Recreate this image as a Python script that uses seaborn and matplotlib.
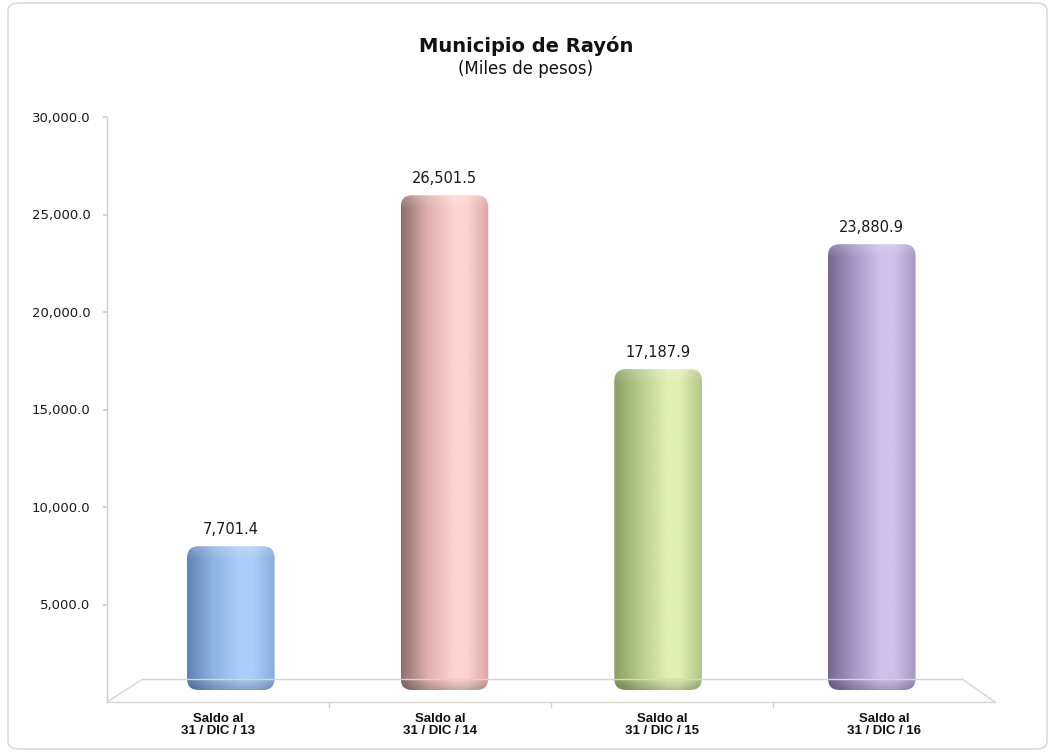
import numpy as np
import pandas as pd
import matplotlib
matplotlib.use("Agg")
import matplotlib.pyplot as plt
import seaborn as sns
from matplotlib.patches import FancyBboxPatch
from matplotlib.lines import Line2D
from matplotlib.colors import LinearSegmentedColormap

# ---- data ----
categories = ["Saldo al\n31 / DIC / 13", "Saldo al\n31 / DIC / 14",
              "Saldo al\n31 / DIC / 15", "Saldo al\n31 / DIC / 16"]
values = [7701.4, 26501.5, 17187.9, 23880.9]
ytick_values = [5000, 10000, 15000, 20000, 25000, 30000]
title = "Municipio de Rayón"
subtitle = "(Miles de pesos)"

base_colors = ["#8DB4E2", "#E0AEAE", "#B8CC8C", "#A897C8"]
# cylinder shading: left edge, mid, highlight, right edge
shade_left = ["#5D82B5", "#8C6E6E", "#8A9E60", "#75678F"]
shade_high = ["#A9CEF8", "#FFD3D3", "#E0F0B2", "#D0C0EA"]
shade_right = ["#86ADDC", "#D9A6A6", "#B2C686", "#A596C4"]

sns.set_theme(style="white")
plt.rcParams["font.family"] = ["DejaVu Sans"]

W, H = 1052, 755
fig = plt.figure(figsize=(W / 100, H / 100), dpi=100)
fig.patch.set_facecolor("white")

def fx(px): return px / W
def fy(py): return 1 - py / H

# outer rounded border
border = FancyBboxPatch((fx(8), fy(749)), fx(1047) - fx(8), fy(3) - fy(749),
                        boxstyle="round,pad=0,rounding_size=0.01",
                        transform=fig.transFigure, facecolor="none",
                        edgecolor="#DADAD6", linewidth=1.2)
fig.patches.append(border)

# front-plane axes (value axis and category labels)
axf = fig.add_axes([fx(107), fy(702), fx(995) - fx(107), fy(117) - fy(702)])
axf.set_facecolor("none")
axf.set_ylim(0, 30000)
axf.set_xlim(0, 4)
axf.set_yticks(ytick_values)
axf.set_yticklabels([f"{v:,.1f}" for v in ytick_values], fontsize=9.5, color="#1A1A1A")
axf.set_xticks([0.5, 1.5, 2.5, 3.5])
axf.set_xticklabels(categories, fontsize=9.5, fontweight="bold", color="#111111",
                    linespacing=1.0, family=["Liberation Sans", "DejaVu Sans"])
axf.set_xticks([1, 2, 3], minor=True)
axf.tick_params(axis="x", which="major", length=0, pad=8)
axf.tick_params(axis="x", which="minor", length=4, color="#D0D0C8", direction="out", bottom=True)
axf.tick_params(axis="y", length=3, color="#D0D0C8", direction="out", left=True, pad=9)
for s in ["top", "right", "bottom"]:
    axf.spines[s].set_visible(False)
axf.spines["left"].set_color("#D0D0C8")
axf.spines["left"].set_linewidth(1.0)

# 3D floor lines
floor_col = "#D6D6CC"
for (x0, y0, x1, y1) in [(107, 702, 995, 702), (107, 702, 143, 679),
                          (143, 679, 962, 679), (962, 679, 995, 702)]:
    fig.lines.append(Line2D([fx(x0), fx(x1)], [fy(y0), fy(y1)],
                            transform=fig.transFigure, color=floor_col, lw=1.0))

# bar axes (middle depth)
axb = fig.add_axes([fx(124), fy(690), fx(978.6) - fx(124), fy(130) - fy(690)])
axb.set_facecolor("none")
df = pd.DataFrame({"cat": categories, "val": values})
sns.barplot(data=df, x="cat", y="val", ax=axb, width=0.41,
            palette=base_colors, hue="cat", legend=False, saturation=1)
axb.set_xlim(-0.5, 3.5)
axb.set_ylim(0, 30000)
axb.axis("off")

ypp = 30000 / 560
xpp = 4 / 854.6
asp = ypp / xpp

for i, (patch, v) in enumerate(zip(axb.patches, values)):
    x, y = patch.get_x(), patch.get_y()
    w, h = patch.get_width(), patch.get_height()
    patch.set_visible(False)
    rnd = FancyBboxPatch((x, y), w, h,
                         boxstyle="round,pad=0,rounding_size=0.055",
                         mutation_aspect=asp, facecolor="none",
                         edgecolor="none", transform=axb.transData)
    axb.add_patch(rnd)
    stops = [(0.0, shade_left[i]), (0.3, base_colors[i]),
             (0.6, shade_high[i]), (0.75, shade_high[i]),
             (1.0, shade_right[i])]
    cmap = LinearSegmentedColormap.from_list("cyl", stops, N=256)
    g = np.linspace(0, 1, 256)
    img = axb.imshow(g[None, :], cmap=cmap, aspect="auto",
                     extent=[x, x + w, y, y + h], zorder=3,
                     interpolation="bicubic")
    img.set_clip_path(rnd)
    # vertical rim shading (light at top, darker at bottom)
    npx = max(int(h / ypp), 2)
    rows = np.zeros((npx, 1, 4))
    d_top = np.arange(npx)
    d_bot = npx - 1 - np.arange(npx)
    a_top = np.clip(1 - d_top / 14, 0, 1) * 0.2
    a_bot = np.clip(1 - d_bot / 12, 0, 1) * 0.2
    rows[:, 0, :3] = np.where((a_top >= a_bot)[:, None], 1.0, 0.0)
    rows[:, 0, 3] = np.maximum(a_top, a_bot)
    ov = axb.imshow(rows, aspect="auto", extent=[x, x + w, y, y + h],
                    zorder=4, interpolation="bilinear", origin="upper")
    ov.set_clip_path(rnd)
    axb.text(x + w / 2, y + h + 9 * ypp, f"{v:,.1f}", ha="center", va="bottom",
             fontsize=10.5, color="#1A1A1A", zorder=5)

axb.set_xlim(-0.5, 3.5)
axb.set_ylim(0, 30000)

fig.text(0.5, fy(46), title, ha="center", va="center", fontsize=14,
         fontweight="bold", color="#111111")
fig.text(0.5, fy(69), subtitle, ha="center", va="center", fontsize=12,
         color="#111111")

fig.savefig("out.png", dpi=100, facecolor="white")
